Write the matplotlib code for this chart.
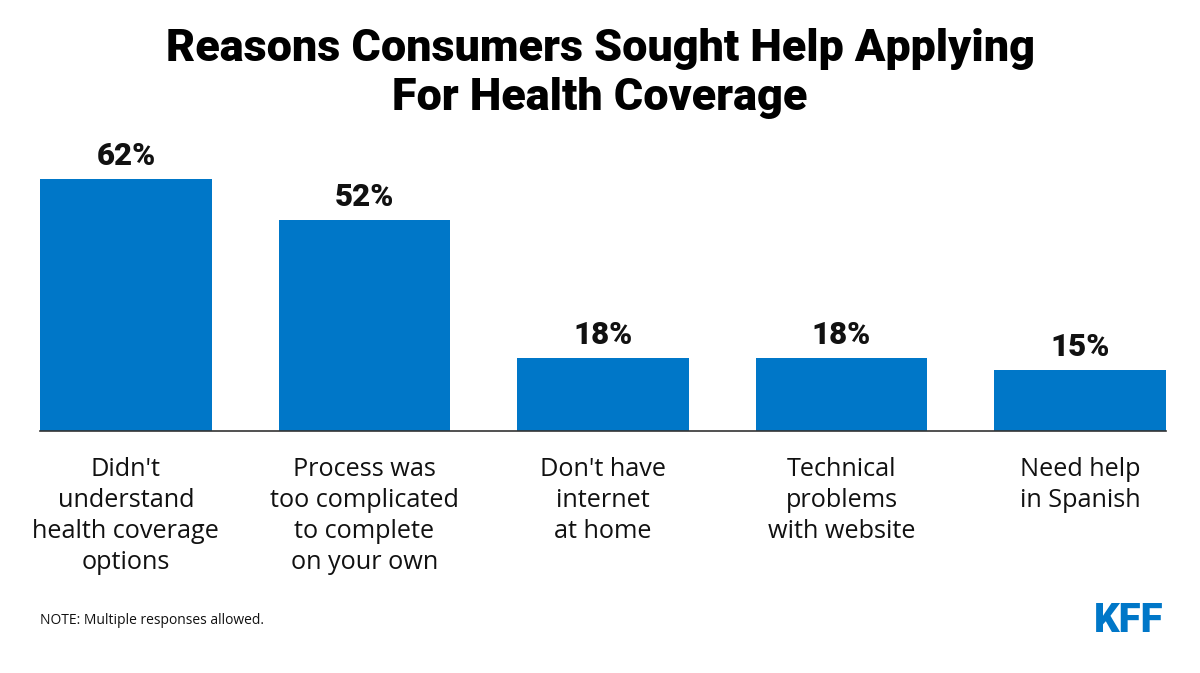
import matplotlib
matplotlib.use("Agg")
import matplotlib.pyplot as plt

# Chart data
categories = [
    "Didn't\nunderstand\nhealth coverage\noptions",
    "Process was\ntoo complicated\nto complete\non your own",
    "Don't have\ninternet\nat home",
    "Technical\nproblems\nwith website",
    "Need help\nin Spanish",
]
values = [62, 52, 18, 18, 15]
value_labels = ["62%", "52%", "18%", "18%", "15%"]

title = "Reasons Consumers Sought Help Applying\nFor Health Coverage"
note = "NOTE: Multiple responses allowed."

BLUE = "#0077C8"

fig = plt.figure(figsize=(12, 6.73), dpi=100)
ax = fig.add_axes([40 / 1200, (673 - 431) / 673, 1126 / 1200, 281 / 673])

x = list(range(len(values)))
bars = ax.bar(x, values, width=0.72, color=BLUE)

ax.set_xlim(-0.36, len(values) - 1 + 0.36)
ax.set_ylim(0, 281 / 4.065)

for rect, lab in zip(bars, value_labels):
    ax.text(rect.get_x() + rect.get_width() / 2, rect.get_height() + 1.9, lab,
            ha="center", va="bottom", fontsize=22.5, fontweight="heavy",
            family="Roboto", color="#111111")

for xi, cat in zip(x, categories):
    ax.text(xi, -6.3, cat, ha="center", va="top", fontsize=18.2,
            family="Open Sans", color="#111111", linespacing=1.32)

for side in ["top", "right", "left"]:
    ax.spines[side].set_visible(False)
ax.spines["bottom"].set_color("#333333")
ax.spines["bottom"].set_linewidth(1.2)
ax.set_xticks([])
ax.set_yticks([])

fig.text(0.5, 1 - 28 / 673, title, ha="center", va="top", fontsize=32.3,
         fontweight="heavy", family="Roboto", color="#000000", linespacing=1.22)

fig.text(40 / 1200, 1 - 620 / 673, note, ha="left", va="center",
         fontsize=10, family="Open Sans", color="#111111")

fig.text(1163 / 1200, 1 - 620 / 673, "KFF", ha="right", va="center",
         fontsize=29, fontweight="heavy", family="Roboto", color=BLUE)

fig.savefig("out.png", dpi=100)
